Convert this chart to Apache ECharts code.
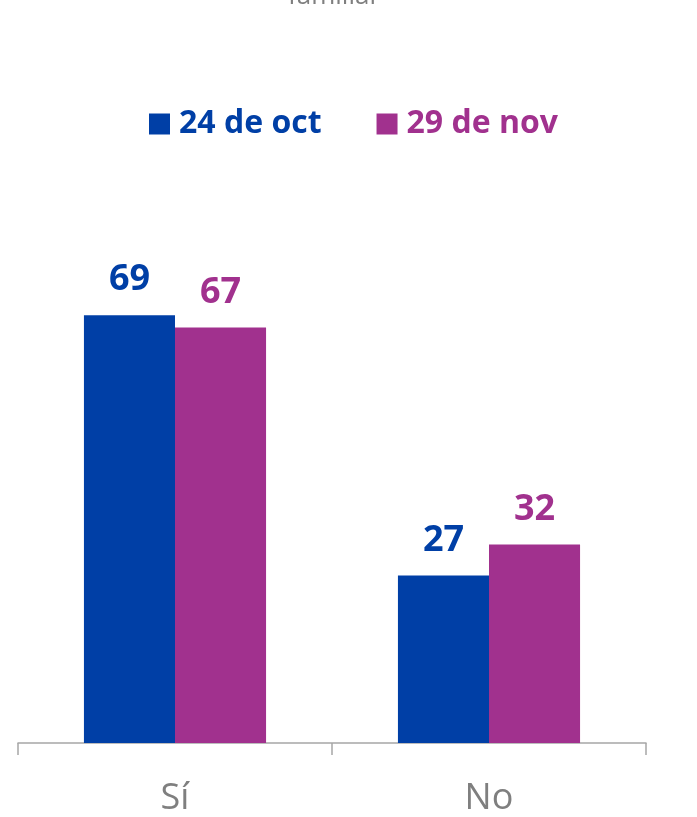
<!DOCTYPE html>
<html>
<head>
<meta charset="utf-8">
<script src="https://cdn.jsdelivr.net/npm/echarts@6/dist/echarts.min.js"></script>
<style>
  html, body { margin: 0; padding: 0; background: #fff; }
  #main { width: 697px; height: 817px; }
</style>
</head>
<body>
<div id="main"></div>
<script>
  // datos
  var categories = ['Sí', 'No'];
  var seriesNames = ['24 de oct', '29 de nov'];
  var octValues = [69, 27];
  var novValues = [67, 32];
  var titleText = 'familiar';

  var colors = ['#003FA6', '#A1318E'];
  var font = 'Open Sans';

  var myChart = echarts.init(document.getElementById('main'));

  myChart.setOption({
    color: colors,
    animation: false,
    title: {
      text: titleText,
      left: 283,
      top: -21,
      textStyle: { color: '#7f7f7f', fontSize: 26, fontWeight: 'normal', fontFamily: font }
    },
    legend: {
      data: seriesNames.map(function (n, i) {
        return { name: n, textStyle: { color: colors[i] } };
      }),
      left: 149,
      top: 108,
      padding: 0,
      itemWidth: 21,
      itemHeight: 21,
      itemGap: 55,
      icon: 'rect',
      textStyle: {
        fontSize: 32,
        fontWeight: 'bold',
        fontFamily: font,
        padding: [0, 0, 0, 4]
      }
    },
    grid: {
      left: 18,
      right: 51,
      top: 123,
      bottom: 74
    },
    xAxis: {
      type: 'category',
      data: categories,
      axisLine: { lineStyle: { color: '#a6a6a6', width: 1.5 } },
      axisTick: { show: true, length: 12, lineStyle: { color: '#a6a6a6', width: 1.5 } },
      axisLabel: { color: '#7f7f7f', fontSize: 36, fontFamily: font, margin: 38 }
    },
    yAxis: {
      type: 'value',
      min: 0,
      max: 100,
      show: false,
      splitLine: { show: false }
    },
    series: [
      {
        name: seriesNames[0],
        type: 'bar',
        data: octValues,
        barGap: '0%',
        barCategoryGap: '42%',
        label: {
          show: true,
          position: 'top',
          distance: 17,
          color: colors[0],
          fontSize: 36,
          fontWeight: 'bold',
          fontFamily: font
        }
      },
      {
        name: seriesNames[1],
        type: 'bar',
        data: novValues,
        barGap: '0%',
        barCategoryGap: '42%',
        label: {
          show: true,
          position: 'top',
          distance: 17,
          color: colors[1],
          fontSize: 36,
          fontWeight: 'bold',
          fontFamily: font
        }
      }
    ]
  });
</script>
</body>
</html>
